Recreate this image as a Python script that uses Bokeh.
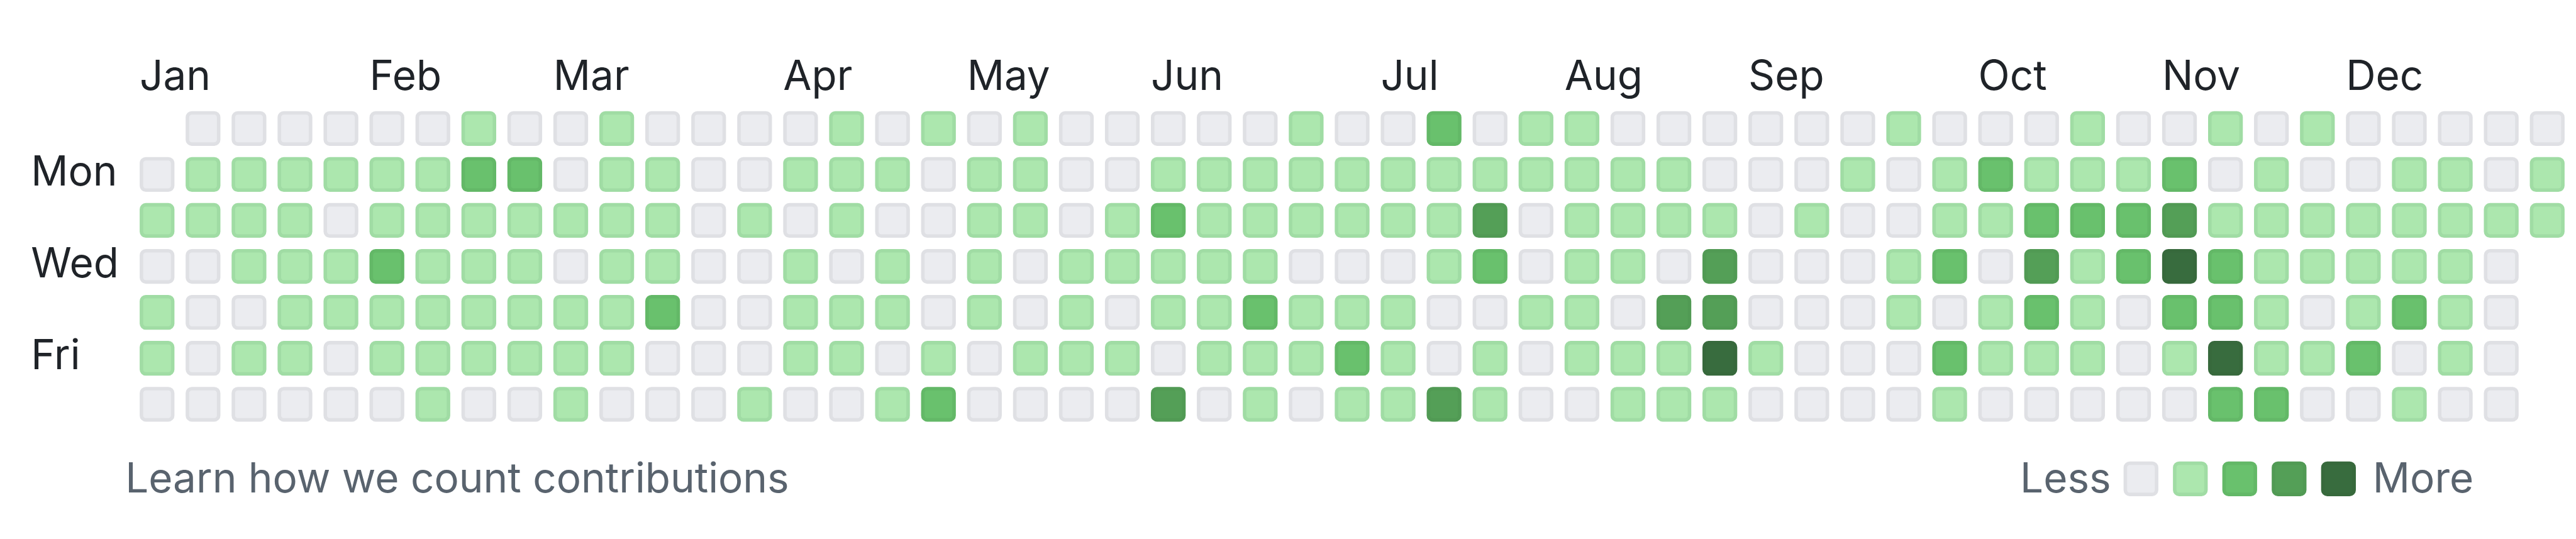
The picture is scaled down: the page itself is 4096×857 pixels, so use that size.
from bokeh.plotting import figure
from bokeh.models import ColumnDataSource, Range1d
from bokeh.core.properties import value
from bokeh.embed import file_html
from bokeh.resources import INLINE

# ---------------- data (contribution level 0-4 per day, None = outside the year) -------------
sun = [None, 0, 0, 0, 0, 0, 0, 1, 0, 0, 1, 0, 0, 0, 0, 1, 0, 1, 0, 1,
       0, 0, 0, 0, 0, 1, 0, 0, 2, 0, 1, 1, 0, 0, 0, 0, 0, 0, 1, 0,
       0, 0, 1, 0, 0, 1, 0, 1, 0, 0, 0, 0, 0]
mon = [0, 1, 1, 1, 1, 1, 1, 2, 2, 0, 1, 1, 0, 0, 1, 1, 1, 0, 1, 1,
       0, 0, 1, 1, 1, 1, 1, 1, 1, 1, 1, 1, 1, 1, 0, 0, 0, 1, 0, 1,
       2, 1, 1, 1, 2, 0, 1, 0, 0, 1, 1, 0, 1]
tue = [1, 1, 1, 1, 0, 1, 1, 1, 1, 1, 1, 1, 0, 1, 0, 1, 0, 0, 1, 1,
       0, 1, 2, 1, 1, 1, 1, 1, 1, 3, 0, 1, 1, 1, 1, 0, 1, 0, 0, 1,
       1, 2, 2, 2, 3, 1, 1, 1, 1, 1, 1, 1, 1]
wed = [0, 0, 1, 1, 1, 2, 1, 1, 1, 0, 1, 1, 0, 0, 1, 0, 1, 0, 1, 0,
       1, 1, 1, 1, 1, 0, 0, 0, 1, 2, 0, 1, 1, 0, 3, 0, 0, 0, 1, 2,
       0, 3, 1, 2, 4, 2, 1, 1, 1, 1, 1, 0, None]
thu = [1, 0, 0, 1, 1, 1, 1, 1, 1, 1, 1, 2, 0, 0, 1, 1, 1, 0, 1, 0,
       1, 0, 1, 1, 2, 1, 1, 1, 0, 0, 1, 1, 0, 3, 3, 0, 0, 0, 1, 0,
       1, 2, 1, 0, 2, 2, 1, 0, 1, 2, 1, 0, None]
fri = [1, 0, 1, 1, 0, 1, 1, 1, 1, 1, 1, 0, 0, 0, 1, 1, 0, 1, 0, 1,
       1, 1, 0, 1, 1, 1, 2, 1, 0, 1, 0, 1, 1, 1, 4, 1, 0, 0, 0, 2,
       1, 1, 1, 0, 1, 4, 1, 1, 2, 0, 1, 0, None]
sat = [0, 0, 0, 0, 0, 0, 1, 0, 0, 1, 0, 0, 0, 1, 0, 0, 1, 2, 0, 0,
       0, 0, 3, 0, 1, 0, 1, 1, 3, 1, 0, 0, 1, 1, 1, 0, 0, 0, 0, 1,
       0, 0, 0, 0, 0, 2, 2, 0, 0, 1, 0, 0, None]

month_labels = ["Jan", "Feb", "Mar", "Apr", "May", "Jun",
                "Jul", "Aug", "Sep", "Oct", "Nov", "Dec"]
month_week = [0, 5, 9, 14, 18, 22, 27, 31, 35, 40, 44, 48]
day_labels = ["Mon", "Wed", "Fri"]
day_label_rows = [1, 3, 5]
legend_levels = [0, 1, 2, 3, 4]
footer_text = "Learn how we count contributions"
legend_less = "Less"
legend_more = "More"

# ---------------- styles ----------------
level_fill = ["#ebecf0", "#ace7ae", "#69c16d", "#549f57", "#386c3e"]
level_line = ["#dfe0e4", "#a0dca4", "#63b867", "#519a54", "#37693c"]
text_dark = "#1f2328"
text_muted = "#59636e"
FONT = "Inter"

# ---------------- layout (page pixels, reference * 0.937) ----------------
S = 0.937
W, H = 4090, 850
PITCH = 78 * S
CELL = 59 * S
RING = 6 * S
RADIUS = 10 * S
X0 = (236.5 + 29.5) * S      # page x of week-0 cell centre
Y0 = (188 + 29.5) * S        # page y of Sunday-row cell centre
FS = 70 * S


def dx(px):
    return (px - X0) / PITCH


def dy(py):
    return (py - Y0) / PITCH


rows = [sun, mon, tue, wed, thu, fri, sat]
xs, ys, fills, lines = [], [], [], []
for r, row in enumerate(rows):
    for c, lvl in enumerate(row):
        if lvl is None:
            continue
        xs.append(c)
        ys.append(r)
        fills.append(level_fill[lvl])
        lines.append(level_line[lvl])
cells = ColumnDataSource(dict(x=xs, y=ys, fill=fills, line=lines))

p = figure(width=W, height=H, output_backend="svg", toolbar_location=None,
           x_range=Range1d(dx(0), dx(W)),
           y_range=Range1d(dy(H), dy(0)),
           x_axis_location=None, y_axis_location=None,
           min_border=0, outline_line_color=None, tools="")
p.grid.visible = False
p.background_fill_color = "white"
p.border_fill_color = "white"

inner = (CELL - RING) / PITCH
BR = int(round(RADIUS - RING / 2))
p.rect(x="x", y="y", width=inner, height=inner, source=cells,
       fill_color="fill", line_color="line", line_width=RING,
       border_radius=BR)

# month labels, left-aligned on the first week of each month
half = CELL / 2 / PITCH
month_src = ColumnDataSource(dict(x=[m - half for m in month_week],
                                  y=[dy(126.5 * S)] * len(month_week),
                                  t=month_labels))
p.text(x="x", y="y", text="t", source=month_src, text_align="left",
       text_baseline="middle", text_color=text_dark,
       text_font=value(FONT), text_font_size=value(f"{FS}px"))

# weekday labels
day_src = ColumnDataSource(dict(x=[dx(52 * S)] * len(day_labels),
                                y=[r - 7 * S / PITCH for r in day_label_rows],
                                t=day_labels))
p.text(x="x", y="y", text="t", source=day_src, text_align="left",
       text_baseline="middle", text_color=text_dark,
       text_font=value(FONT), text_font_size=value(f"{FS}px"))

# footer
base = dy(810 * S)
foot_src = ColumnDataSource(dict(x=[dx(212 * S), dx(3427.5 * S), dx(4026 * S)],
                                 y=[base] * 3,
                                 t=[footer_text, legend_less, legend_more]))
p.text(x="x", y="y", text="t", source=foot_src, text_align="left",
       text_baseline="middle", text_color=text_muted,
       text_font=value(FONT), text_font_size=value(f"{FS}px"))

LEG_PITCH = 83.8 * S
leg_src = ColumnDataSource(dict(
    x=[dx((3602.6 + 30) * S + k * LEG_PITCH) for k in legend_levels],
    y=[dy(812 * S)] * len(legend_levels),
    fill=[level_fill[k] for k in legend_levels],
    line=[level_line[k] for k in legend_levels]))
p.rect(x="x", y="y", width=inner, height=inner, source=leg_src,
       fill_color="fill", line_color="line", line_width=RING,
       border_radius=BR)

open("out.html", "w").write(file_html(p, INLINE))
